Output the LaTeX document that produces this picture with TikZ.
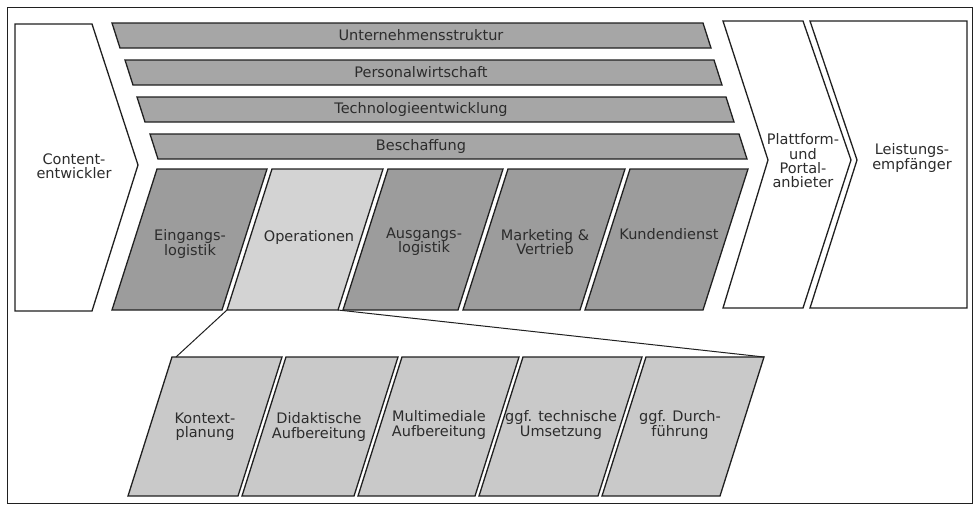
\documentclass[tikz,border=0pt]{standalone}
\usepackage{fontspec}
\setmainfont{DejaVu Sans}
\definecolor{supportgray}{HTML}{A6A6A6}
\definecolor{primgray}{HTML}{9C9C9C}
\definecolor{opsgray}{HTML}{D3D3D3}
\definecolor{subgray}{HTML}{C9C9C9}
\definecolor{txtgray}{HTML}{2C2C2C}
\definecolor{linegray}{HTML}{202020}
\begin{document}
\begin{tikzpicture}[x=1pt,y=-1pt,
  edge/.style={draw=linegray, line width=1.3pt, line join=miter},
  support/.style={edge, fill=supportgray},
  primary/.style={edge, fill=primgray},
  ops/.style={edge, fill=opsgray},
  sub/.style={edge, fill=subgray},
  actor/.style={edge, fill=white},
  frame/.style={draw=linegray, line width=1pt},
  lbl/.style={text=txtgray, font=\fontsize{14.5}{14.3}\selectfont, align=center, inner sep=0pt},
  link/.style={draw=linegray, line width=1pt}]
\useasboundingbox (0,0) rectangle (975,506);
\draw[frame] (7,7) rectangle (972,503);

% left actor chevron
\draw[actor] (15,24) -- (92,24) -- (138,165) -- (92,311) -- (15,311) -- cycle;
\node[lbl] (content) at (74,166) {Content-\\entwickler};

% support activities
\draw[support] (112,23) -- (703,23) -- (711,48) -- (120,48) -- cycle;
\draw[support] (125,60) -- (714,60) -- (722,85) -- (133,85) -- cycle;
\draw[support] (137,97) -- (726,97) -- (734,122) -- (145,122) -- cycle;
\draw[support] (150,134) -- (739,134) -- (747,159) -- (158,159) -- cycle;
\node[lbl] (unt) at (421,35.5) {Unternehmensstruktur};
\node[lbl] (pers) at (421,72.5) {Personalwirtschaft};
\node[lbl] (tech) at (421,109.5) {Technologieentwicklung};
\node[lbl] (besch) at (421,146.5) {Beschaffung};

% primary activities
\draw[primary] (157,169) -- (267,169) -- (222,310) -- (112,310) -- cycle;
\draw[ops] (272,169) -- (383,169) -- (338,310) -- (227,310) -- cycle;
\draw[primary] (388,169) -- (503,169) -- (458,310) -- (343,310) -- cycle;
\draw[primary] (508,169) -- (625,169) -- (580,310) -- (463,310) -- cycle;
\draw[primary] (630,169) -- (748,169) -- (703,310) -- (585,310) -- cycle;
\coordinate (opsbl) at (227,310);
\coordinate (opsbr) at (338,310);
\node[lbl] (eing) at (190,244) {Eingangs-\\logistik};
\node[lbl] (oper) at (309,237) {Operationen};
\node[lbl] (ausg) at (424,242) {Ausgangs-\\logistik};
\node[lbl] (mark) at (545,242) {Marketing \&\\Vertrieb};
\node[lbl] (kund) at (669,234) {Kundendienst};

% right actors
\draw[actor] (723,21) -- (803,21) -- (851,160) -- (803,308) -- (723,308) -- (768,160) -- cycle;
\draw[actor] (810,21) -- (967,21) -- (967,308) -- (810,308) -- (857,160) -- cycle;
\node[lbl] (platt) at (803,161) {Plattform-\\und\\Portal-\\anbieter};
\node[lbl] (leist) at (912,158) {Leistungs-\\empfänger};

% operations detail
\draw[sub] (172,357) -- (282,357) -- (238,496) -- (128,496) -- cycle;
\draw[sub] (286,357) -- (398,357) -- (354,496) -- (242,496) -- cycle;
\draw[sub] (402,357) -- (519,357) -- (475,496) -- (358,496) -- cycle;
\draw[sub] (523,357) -- (642,357) -- (598,496) -- (479,496) -- cycle;
\draw[sub] (646,357) -- (764,357) -- (720,496) -- (602,496) -- cycle;
\coordinate (kontl) at (176,357);
\coordinate (durtr) at (764,357);
\node[lbl] (kont) at (205,427) {Kontext-\\planung};
\node[lbl] (dida) at (319,427) {Didaktische\\Aufbereitung};
\node[lbl] (mult) at (439,425) {Multimediale\\Aufbereitung};
\node[lbl] (tumn) at (561,425) {ggf. technische\\Umsetzung};
\node[lbl] (durch) at (680,425) {ggf. Durch-\\führung};

% connectors
\draw[link] (opsbl) -- (kontl);
\draw[link] (opsbr) -- (durtr);
\end{tikzpicture}
\end{document}
